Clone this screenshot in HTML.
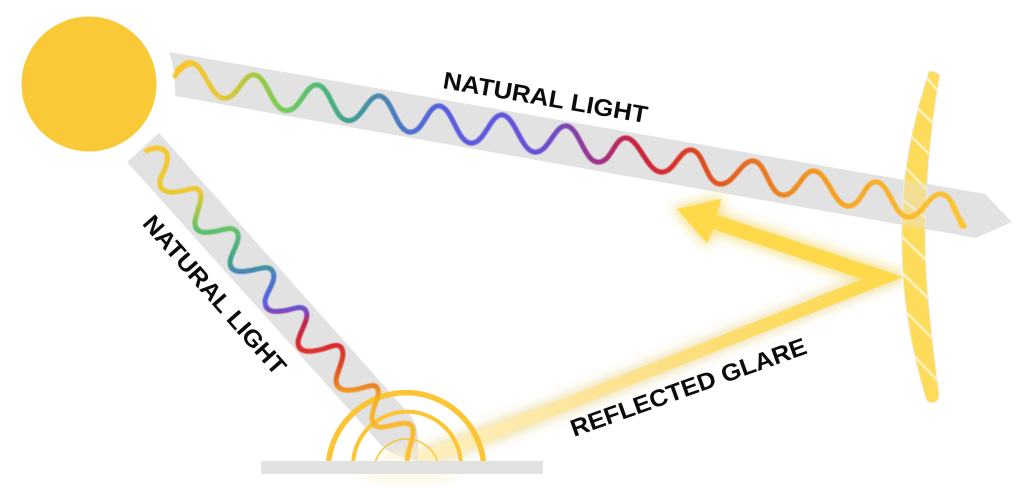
<!DOCTYPE html>
<html><head><meta charset="utf-8"><style>
html,body{margin:0;padding:0;background:#fff}
svg{display:block}
text{font-family:"Liberation Sans",sans-serif;font-weight:bold;fill:#0c0c0c}
</style></head><body>
<svg width="1024" height="488" viewBox="0 0 1024 488" xmlns="http://www.w3.org/2000/svg">
<defs>
<linearGradient id="w1" gradientUnits="userSpaceOnUse" x1="175" y1="0" x2="962" y2="0">
<stop offset="0" stop-color="#f9c62f"/><stop offset=".06" stop-color="#e6c835"/><stop offset=".1" stop-color="#a8c840"/><stop offset=".14" stop-color="#72cc5c"/><stop offset=".185" stop-color="#50b878"/><stop offset=".22" stop-color="#3fa08e"/><stop offset=".26" stop-color="#4a88b0"/><stop offset=".3" stop-color="#4f70d0"/><stop offset=".34" stop-color="#5a5ee0"/><stop offset=".46" stop-color="#6650d8"/><stop offset=".5" stop-color="#7e44b0"/><stop offset=".54" stop-color="#a33085"/><stop offset=".58" stop-color="#c42444"/><stop offset=".63" stop-color="#d92e28"/><stop offset=".69" stop-color="#e05a20"/><stop offset=".78" stop-color="#ee8a20"/><stop offset=".85" stop-color="#f6a524"/><stop offset=".93" stop-color="#f9b92e"/><stop offset="1" stop-color="#fcc332"/>
</linearGradient>
<linearGradient id="w2" gradientUnits="userSpaceOnUse" x1="0" y1="147" x2="0" y2="461">
<stop offset="0" stop-color="#f6c82f"/><stop offset=".14" stop-color="#eec932"/><stop offset=".2" stop-color="#a8c844"/><stop offset=".27" stop-color="#5cc070"/><stop offset=".37" stop-color="#3fa090"/><stop offset=".41" stop-color="#4a78c8"/><stop offset=".5" stop-color="#5a5ee0"/><stop offset=".53" stop-color="#8a40b0"/><stop offset=".56" stop-color="#c02448"/><stop offset=".63" stop-color="#d92a30"/><stop offset=".7" stop-color="#e04a24"/><stop offset=".75" stop-color="#e87820"/><stop offset=".8" stop-color="#f6b02c"/><stop offset="1" stop-color="#fcc232"/>
</linearGradient>
<linearGradient id="beam" gradientUnits="userSpaceOnUse" x1="420" y1="455" x2="903" y2="277">
<stop offset="0" stop-color="#fdf0c0"/><stop offset=".35" stop-color="#fde49a"/><stop offset=".7" stop-color="#fddc68"/><stop offset="1" stop-color="#fed94a"/>
</linearGradient>
<filter id="bl" x="-20%" y="-30%" width="140%" height="160%"><feGaussianBlur stdDeviation="6"/></filter>
<filter id="bl2" x="-50%" y="-100%" width="200%" height="300%"><feGaussianBlur stdDeviation="4"/></filter>
<filter id="soft" x="-5%" y="-5%" width="110%" height="110%"><feGaussianBlur stdDeviation=".45"/></filter>
<clipPath id="lens"><path d="M929,71 Q935,71 940,75 Q930,130 927,187 Q923,240 928,297 Q933,350 939,393 Q940,402 932,403 Q928,403 926,399 Q911,350 905,300 Q899,240 904,183 Q911,125 929,71Z"/></clipPath>
</defs>

<circle cx="89" cy="84" r="67.5" fill="#f9c938"/>

<path d="M169,52 L985,194 L1012,222 L976,238 L175,96 Q176,72 169,52Z" fill="#e2e2e2"/>
<path d="M159,133 L410,415 Q417,424 418,437 L418,461 L405,458 Q388,453 380,444 L127,162Z" fill="#e2e2e2"/>

<path d="M677,209 L721,199 L717,215 L903,277 L862,279 L713,229 L707,243Z" fill="#efd45a" stroke="#efd45a" stroke-width="5" opacity=".75" filter="url(#bl)"/>
<path d="M903,277 L862,279 L560,400 L420,452 L420,461 L440,461Z" fill="#e8d690" stroke="#e8d690" stroke-width="5" opacity=".75" filter="url(#bl)"/>
<ellipse cx="410" cy="478" rx="50" ry="5" fill="#fdf2d0" opacity=".55" filter="url(#bl2)"/>
<path d="M375,461 Q400,440 432,452 L432,461Z" fill="#fdf0c8" opacity=".6" filter="url(#bl2)"/>

<path d="M903,277 L862,279 L560,400 L420,452 L420,461 L440,461Z" fill="url(#beam)"/>
<path d="M677,209 L721,199 L717,215 L903,277 L862,279 L713,229 L707,243Z" fill="#fed94a"/>

<path d="M929,71 Q935,71 940,75 Q930,130 927,187 Q923,240 928,297 Q933,350 939,393 Q940,402 932,403 Q928,403 926,399 Q911,350 905,300 Q899,240 904,183 Q911,125 929,71Z" fill="#fddc5c" stroke="#eeeeee" stroke-width="1"/>
<g clip-path="url(#lens)" stroke="#fff" stroke-opacity=".6" stroke-width="2.6">
<path d="M926,77 L937,90M917,108 L933,123M911,136 L929,154M905,167 L927,190M903,200 L925,217M902,237 L926,260M903,274 L928,298M907,313 L932,338M913,355 L937,380" fill="none"/>
</g>
<g clip-path="url(#lens)"><path d="M169,52 L985,194 L1012,222 L976,238 L175,96Z" fill="#e2e2e2" opacity=".42"/></g>

<g fill="none" stroke="#fbc535">
<path d="M328.6,461 A78,78 0 0 1 483.4,461" stroke-width="5.5"/>
<path d="M353.2,461 A54,54 0 0 1 460.8,461" stroke-width="4"/>
<path d="M375.6,461 A32.7,32.7 0 0 1 437.4,461" stroke-width="1.5"/>
</g>

<g filter="url(#soft)">
<path d="M175,69 C180,64 186,59 192,60 L193,66 C186,66 180,73 175,80Z" fill="#f9c62f"/>
<path d="M175,76 C180,68 185,62 192,63 C204,65 210,96 223,98 C238,100 242,73 255,75 C267,77 272,108.500 285,110.500 C300,113 305,83 318,85 C330,87 334,118.500 347,120.500 C362,123 367,94 380,96 C392,98 396,130 409,132 C424,134 427,104 440,106 C452,108 457,141 470,143 C485,145 490,113 503,115 C515,117 521,150 534,152 C549,154 554,124 567,126 C579,128 584,160 597,162 C612,164 614,136 627,138 C639,140 647,170 660,172 C675,174 679,148 692,150 C704,152 706,182 719,184 C734,186 741,159 754,161 C766,163 769,193 782,195 C797,197 802,169 815,171 C827,173 834,204 847,206 C862,208 864,180 877,182 C889,184 894,215 907,217 C922,219 929,192 942,194 C952,196 956,212 962,226" fill="none" stroke="url(#w1)" stroke-width="5" stroke-linecap="round"/>
<path d="M952,204 C956,212 958,218 964,226" fill="none" stroke="#fcc332" stroke-width="5.500" stroke-linecap="round"/>
<path d="M145,152 C150,148 157,147 162,149 C172,153 166,168 161,177 C156,190 167,193 176,192 C185,191 192,187 197,189 C206,193 197,210 195,221 C194,235 207,233 217,231 C226,229 233,226 237,232 C242,240 231,252 230,262 C230,274 243,272 253,270 C262,268 270,265 273,272 C277,281 266,292 265,301 C265,314 278,312 288,310 C296,308 303,305 306,311 C310,319 299,332 298,342 C298,354 312,352 323,349 C330,347 339,342 342,349 C346,358 336,372 336,381 C337,393 352,391 362,388 C370,386 376,383 378,390 C380,397 372,407 372,418 C373,431 384,427 394,425 C402,423 411,421 413,429 C414,440 408,448 407,461" fill="none" stroke="url(#w2)" stroke-width="5"/>
</g>

<rect x="261" y="461" width="282" height="13" fill="#e2e2e2"/>

<text transform="translate(442,88) rotate(9.8)" font-size="24" textLength="207" lengthAdjust="spacingAndGlyphs">NATURAL LIGHT</text>
<text transform="translate(141.500,224) rotate(48.7)" font-size="24" textLength="203" lengthAdjust="spacingAndGlyphs">NATURAL LIGHT</text>
<text transform="translate(574,437) rotate(-19.7)" font-size="24" textLength="249" lengthAdjust="spacingAndGlyphs">REFLECTED GLARE</text>
</svg>
</body></html>
